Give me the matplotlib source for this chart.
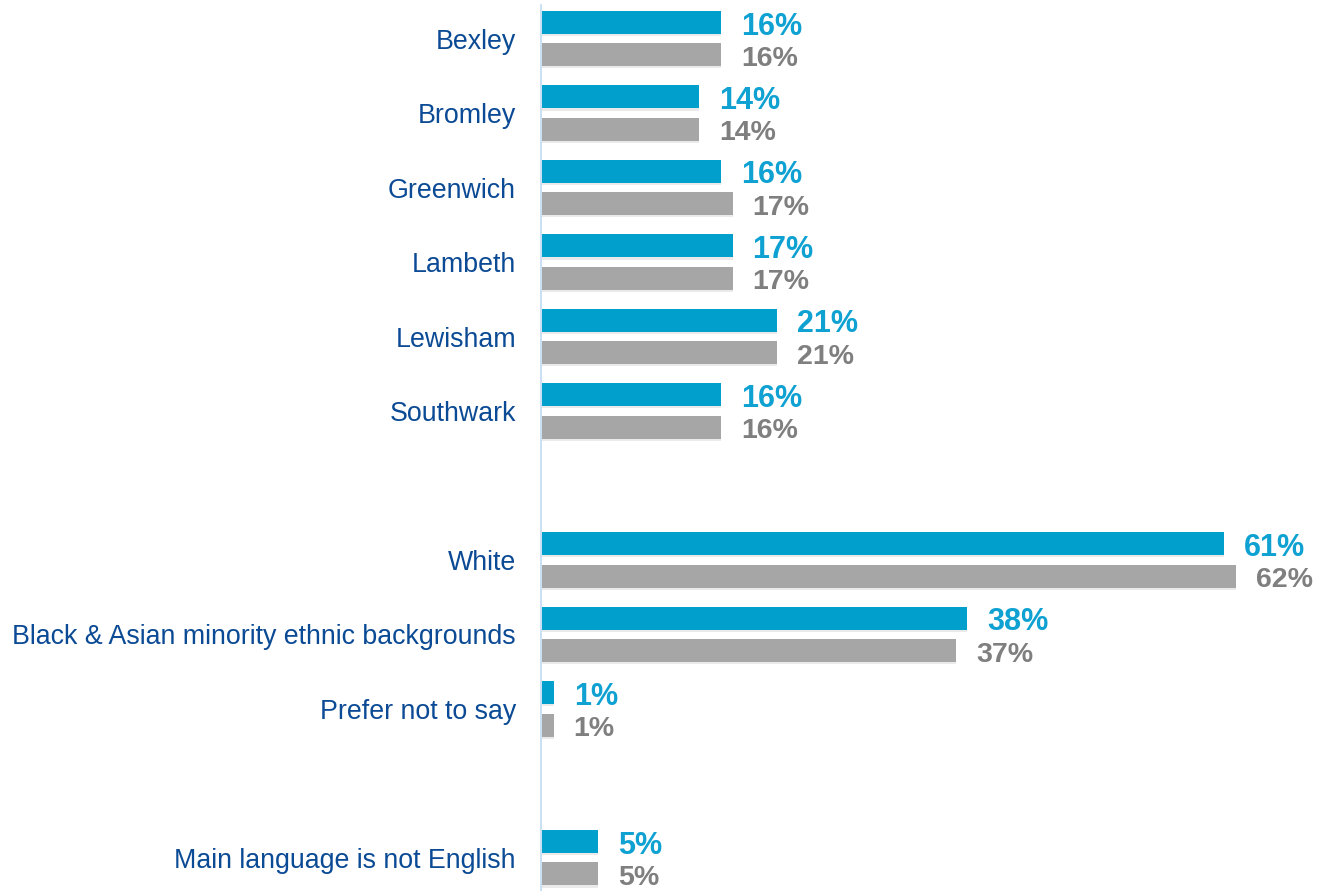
import matplotlib
matplotlib.use("Agg")
import matplotlib.pyplot as plt
import matplotlib.patheffects as pe

categories = [
    "Bexley", "Bromley", "Greenwich", "Lambeth", "Lewisham", "Southwark",
    "White", "Black & Asian minority ethnic backgrounds", "Prefer not to say",
    "Main language is not English",
]
# row index of each category (blank rows separate the groups)
rows = [0, 1, 2, 3, 4, 5, 7, 8, 9, 11]
series_a = [16, 14, 16, 17, 21, 16, 61, 38, 1, 5]
series_b = [16, 14, 17, 17, 21, 16, 62, 37, 1, 5]

BLUE = "#009fcc"
BLUE_TXT = "#0ea1d2"
GREY = "#a6a6a6"
GREY_TXT = "#7f7f7f"
NAVY = "#0b4a94"

W, H, DPI = 1327, 891, 100
fig = plt.figure(figsize=(W / DPI, H / DPI), dpi=DPI)

row_px = 74.48
top_px = 38.6
ax_top, ax_bot = 5, 891
ax_left = 541
ax = fig.add_axes([ax_left / W, 0, 1 - ax_left / W, (ax_bot - ax_top) / H])
ax.set_ylim((ax_bot - top_px) / row_px, (ax_top - top_px) / row_px)
px_per_unit = 11.2
ax.set_xlim(-1.5 / px_per_unit, (W - ax_left) / px_per_unit)

off = 16.1 / row_px
h = 23 / row_px
shadow = [pe.SimplePatchShadow(offset=(0, -1.5), shadow_rgbFace="#9a9a9a", alpha=0.2), pe.Normal()]

ya = [r - off for r in rows]
yb = [r + off for r in rows]
bars_a = ax.barh(ya, series_a, height=h, color=BLUE, linewidth=0)
bars_b = ax.barh(yb, series_b, height=h, color=GREY, linewidth=0)
for b in list(bars_a) + list(bars_b):
    b.set_path_effects(shadow)

gap = 20 / px_per_unit
for y, v in zip(ya, series_a):
    ax.text(v + gap, y + 4 / row_px, f"{v}%", color=BLUE_TXT, fontsize=22,
            fontweight="bold", family="Liberation Sans", va="center", ha="left")
for y, v in zip(yb, series_b):
    ax.text(v + gap, y + 4 / row_px, f"{v}%", color=GREY_TXT, fontsize=20.5,
            fontweight="bold", family="Liberation Sans", va="center", ha="left")

ax.set_yticks(rows)
ax.set_yticklabels(categories, family="Liberation Sans", fontsize=19.3, color=NAVY)
ax.tick_params(axis="y", length=0, pad=18)
ax.set_xticks([])
for s in ["top", "right", "bottom"]:
    ax.spines[s].set_visible(False)
ax.spines["left"].set_color("#c2daf2")
ax.spines["left"].set_linewidth(1.2)

fig.savefig("out.png", dpi=DPI)
